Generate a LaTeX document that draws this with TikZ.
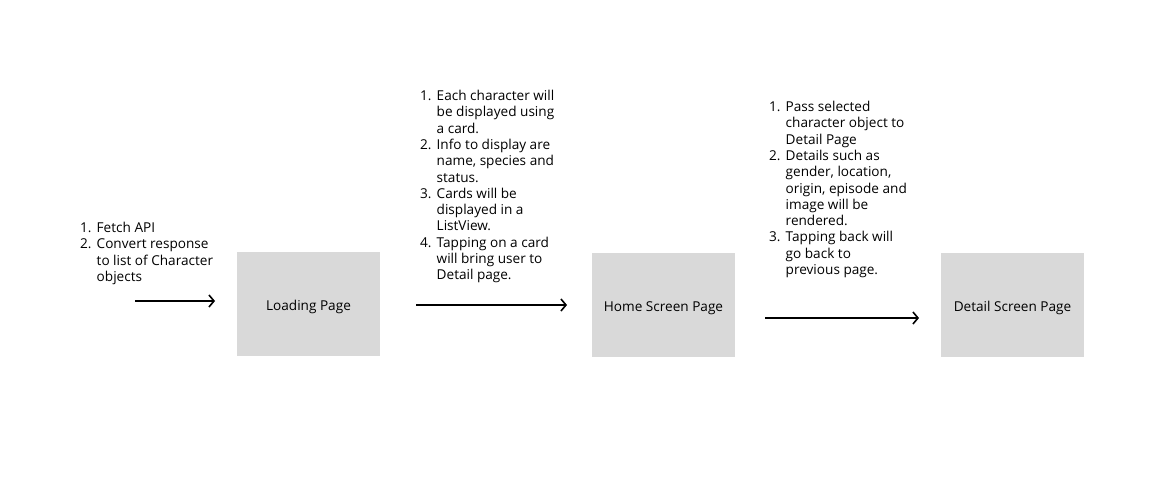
\documentclass[tikz,border=0pt]{standalone}
\usepackage{fontspec}
\setmainfont{Open Sans}
\usetikzlibrary{arrows.meta}

\tikzset{
  page/.style={fill=pagegray, minimum width=143pt, minimum height=104pt, inner sep=0pt,
    text height=12.3pt, text depth=0pt},
  note/.style={align=left, anchor=north west, inner sep=0pt, font=\fontsize{13.6}{16.3}\selectfont},
  flow/.style={line width=1.6pt, -{Straight Barb[length=5pt, width=12pt, line width=1.6pt]}}
}
\definecolor{pagegray}{HTML}{D9D9D9}
\newcommand\itm[1]{\makebox[16.5pt][l]{#1.}}
\newcommand\ind{\hspace*{16.5pt}}

\begin{document}
\begin{tikzpicture}[x=1pt, y=-1pt, font=\fontsize{13.6}{15}\selectfont]
    \useasboundingbox[fill=white] (0,0) rectangle (1158,478);

    % Pages
    \node[page] (loading) at (308.5,304) {Loading Page};
    \node[page] (home) at (663.5,305) {Home Screen Page};
    \node[page] (detail) at (1012.5,305) {Detail Screen Page};

    % Notes above the arrows
    \node[note] (note1) at (80,222) {\itm{1}Fetch API\\
        \itm{2}Convert response\\
        \ind to list of Character\\
        \ind objects};
    \node[note] (note2) at (420,90) {\itm{1}Each character will\\
        \ind be displayed using\\
        \ind a card.\\
        \itm{2}Info to display are\\
        \ind name, species and\\
        \ind status.\\
        \itm{3}Cards will be\\
        \ind displayed in a\\
        \ind ListView.\\
        \itm{4}Tapping on a card\\
        \ind will bring user to\\
        \ind Detail page.};
    \node[note] (note3) at (769,101) {\itm{1}Pass selected\\
        \ind character object to\\
        \ind Detail Page\\
        \itm{2}Details such as\\
        \ind gender, location,\\
        \ind origin, episode and\\
        \ind image will be\\
        \ind rendered.\\
        \itm{3}Tapping back will\\
        \ind go back to\\
        \ind previous page.};

    % Arrows
    \coordinate (in1) at (135,301);
    \coordinate (out1) at (215,301);
    \coordinate (in2) at (416,305);
    \coordinate (out2) at (567,305);
    \coordinate (in3) at (765,318);
    \coordinate (out3) at (919,318);
    \draw[flow] (in1) -- (out1);
    \draw[flow] (in2) -- (out2);
    \draw[flow] (in3) -- (out3);
\end{tikzpicture}
\end{document}
